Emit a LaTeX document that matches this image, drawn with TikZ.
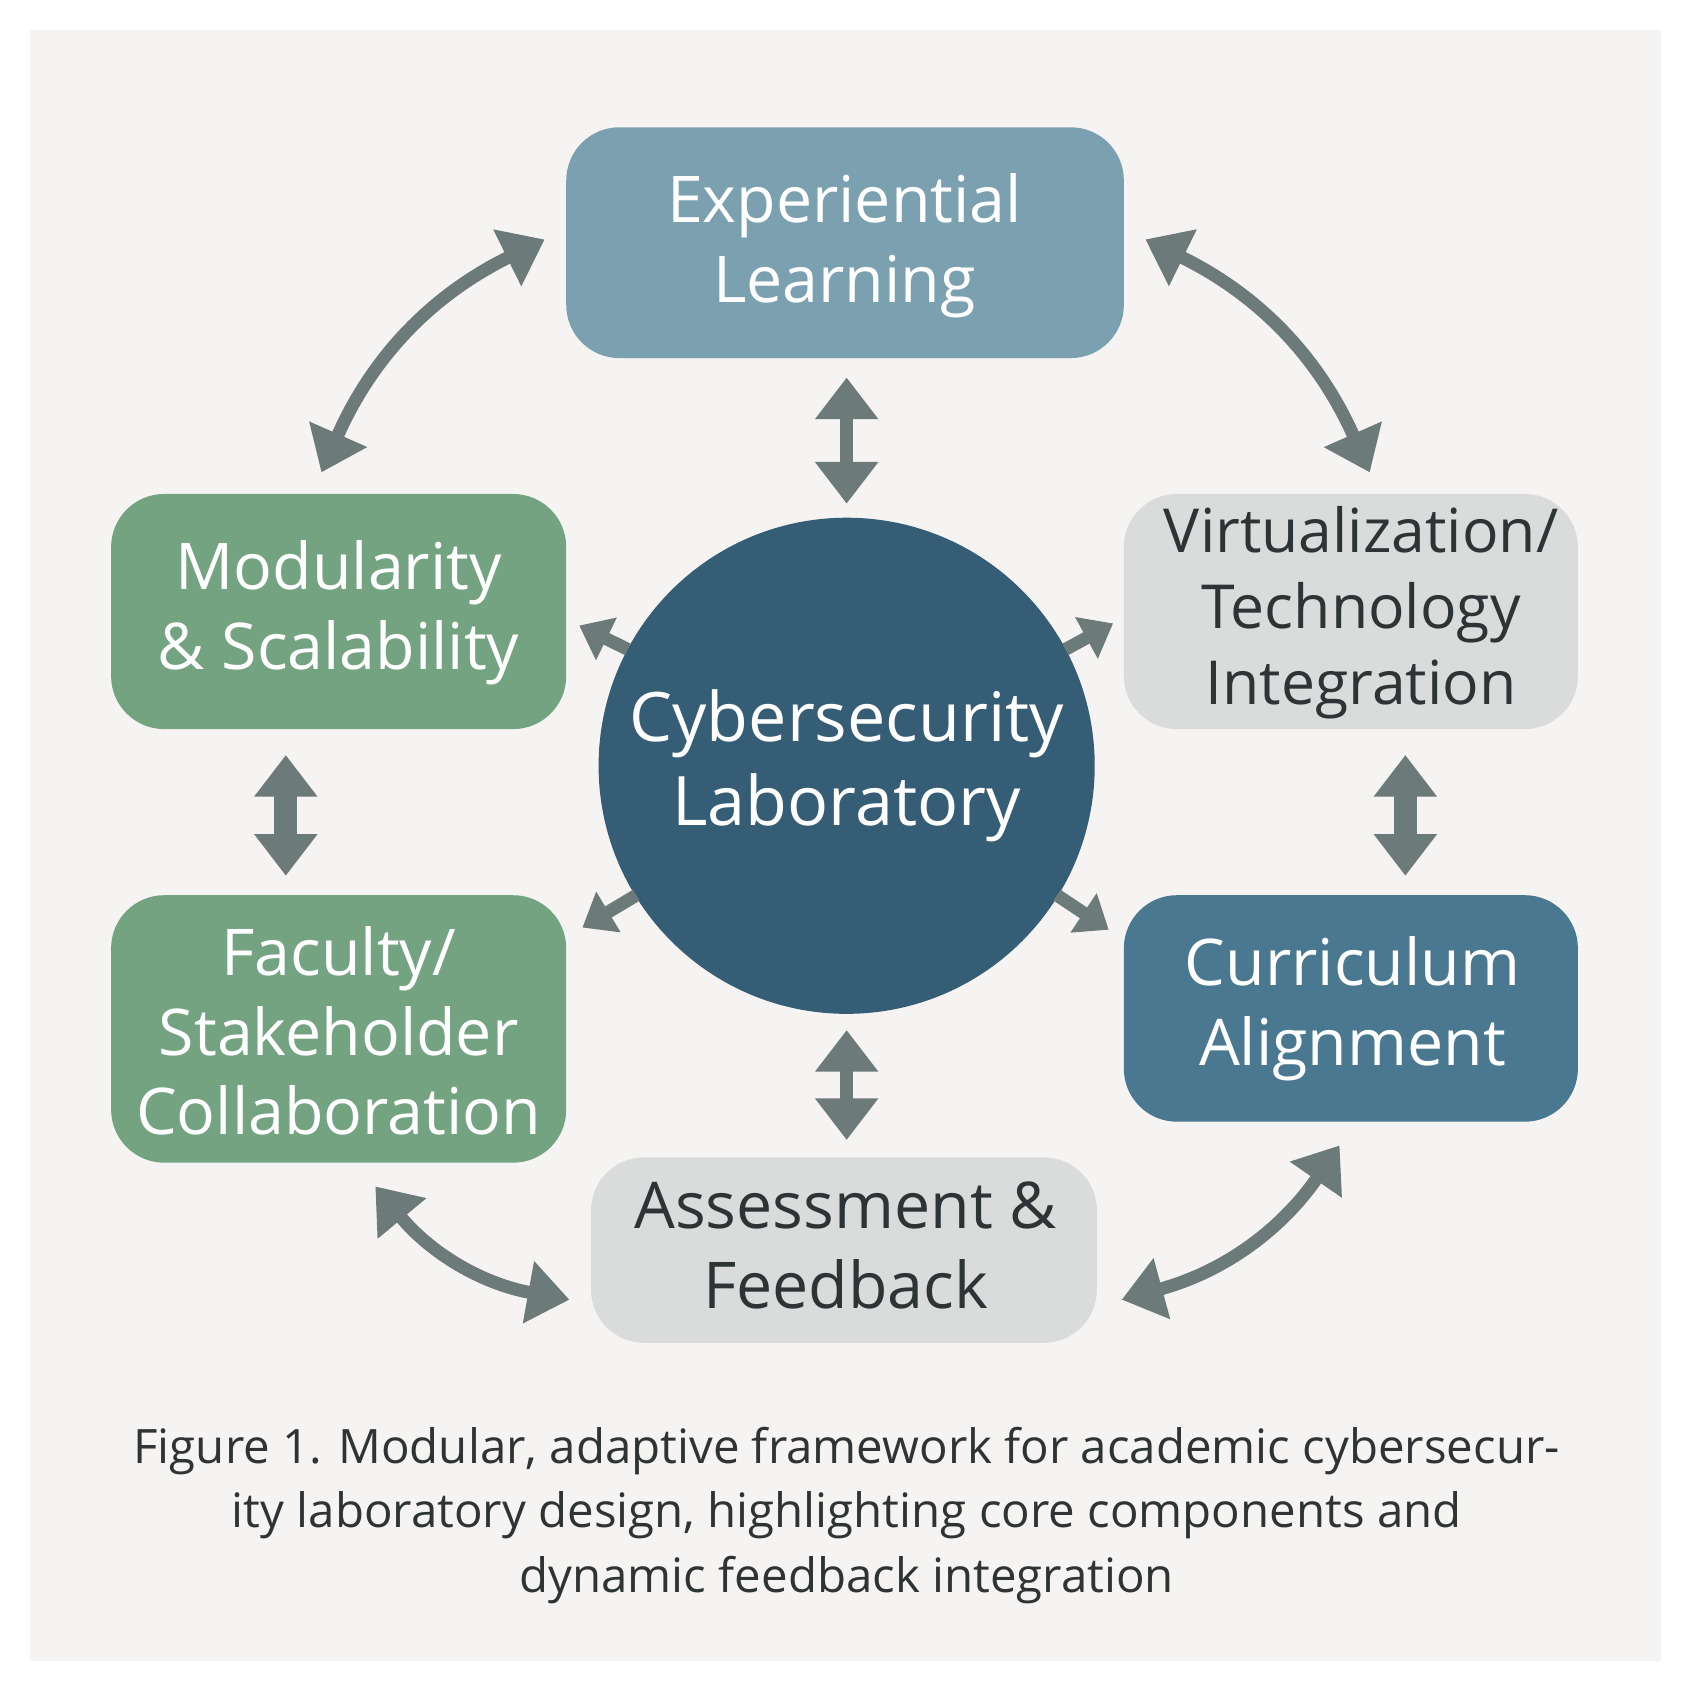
\documentclass[tikz,border=0pt]{standalone}
\usepackage{fontspec}
\setmainfont{Open Sans}
\usetikzlibrary{arrows.meta}
\definecolor{bgc}{HTML}{F6F4F2}
\definecolor{blueL}{HTML}{7BA1B1}
\definecolor{greenc}{HTML}{74A382}
\definecolor{grayc}{HTML}{DADBDB}
\definecolor{circc}{HTML}{355D75}
\definecolor{blueM}{HTML}{4A7891}
\definecolor{arr}{HTML}{6D7A7A}
\definecolor{txt}{HTML}{2E3436}
\begin{document}
\begin{tikzpicture}[x=0.01cm,y=-0.01cm,
 box/.style={rounded corners=14pt,font=\fontsize{17}{21}\selectfont,align=center,inner sep=0pt},
 ar/.style={arr,line width=3.4pt,{Triangle[length=11pt,width=16pt]}-{Triangle[length=11pt,width=16pt]}},
 sar/.style={arr,line width=3.4pt,-{Triangle[length=8pt,width=12pt]}}]
\useasboundingbox (0,0) rectangle (1560,1566);
\fill[white] (0,0) rectangle (1560,1566);
\fill[bgc] (28,28) rectangle (1540,1540);
\fill[blueL,rounded corners=14pt] (525,118) rectangle (1042,332);
\node[text=white,font=\fontsize{17}{21}\selectfont,align=center] (exp) at (783,228) {Experiential\\Learning};
\fill[greenc,rounded corners=14pt] (103,458) rectangle (525,676);
\node[text=white,font=\fontsize{17}{21}\selectfont,align=center] (mod) at (314,568) {Modularity\\\&~Scalability};
\fill[grayc,rounded corners=14pt] (1042,458) rectangle (1463,676);
\node[text=txt,font=\fontsize{16}{20}\selectfont,align=center] (vir) at (1262,568) {Virtualization/\\Technology\\Integration};
\fill[greenc,rounded corners=14pt] (103,830) rectangle (525,1078);
\node[text=white,font=\fontsize{17}{21}\selectfont,align=center] (fac) at (314,956) {Faculty/\\Stakeholder\\Collaboration};
\fill[blueM,rounded corners=14pt] (1042,830) rectangle (1463,1040);
\node[text=white,font=\fontsize{17}{21}\selectfont,align=center] (cur) at (1254,935) {Curriculum\\Alignment};
\fill[grayc,rounded corners=14pt] (548,1073) rectangle (1017,1245);
\node[text=txt,font=\fontsize{17}{21}\selectfont,align=center] (ass) at (784,1155) {Assessment \&\\Feedback};
\fill[circc] (785,710) circle (230);
\node[text=white,font=\fontsize{18}{22}\selectfont,align=center] (lab) at (785,710) {Cybersecurity\\Laboratory};
\coordinate (a1) at (505,222); \coordinate (a2) at (298,438);
\coordinate (b1) at (1062,222); \coordinate (b2) at (1270,438);
\coordinate (c1) at (785,350); \coordinate (c2) at (785,467);
\coordinate (d1) at (265,700); \coordinate (d2) at (265,812);
\coordinate (e1) at (1303,700); \coordinate (e2) at (1303,812);
\coordinate (f1) at (785,955); \coordinate (f2) at (785,1057);
\coordinate (g1) at (348,1100); \coordinate (g2) at (528,1205);
\coordinate (h1) at (1040,1205); \coordinate (h2) at (1242,1062);
\draw[ar] (a1) to[bend right=20] (a2);
\draw[ar] (b1) to[bend left=20] (b2);
\draw[ar] (c1) -- (c2);
\draw[ar,line width=6pt] (d1) -- (d2);
\draw[ar,line width=6pt] (e1) -- (e2);
\draw[ar] (f1) -- (f2);
\draw[ar] (g1) to[bend right=20] (g2);
\draw[ar] (h1) to[bend right=20] (h2);
\coordinate (s1) at (582,602); \coordinate (t1) at (537,580);
\coordinate (s2) at (988,602); \coordinate (t2) at (1032,578);
\coordinate (s3) at (590,830); \coordinate (t3) at (540,860);
\coordinate (s4) at (980,830); \coordinate (t4) at (1028,862);
\draw[sar] (s1) -- (t1); \draw[sar] (s2) -- (t2);
\draw[sar] (s3) -- (t3); \draw[sar] (s4) -- (t4);
\node[text=txt,font=\fontsize{12.5}{17}\selectfont,align=center] (cap) at (785,1405)
 {Figure 1. Modular, adaptive framework for academic cybersecur-\\ity laboratory design, highlighting core components and\\dynamic feedback integration};
\end{tikzpicture}
\end{document}
